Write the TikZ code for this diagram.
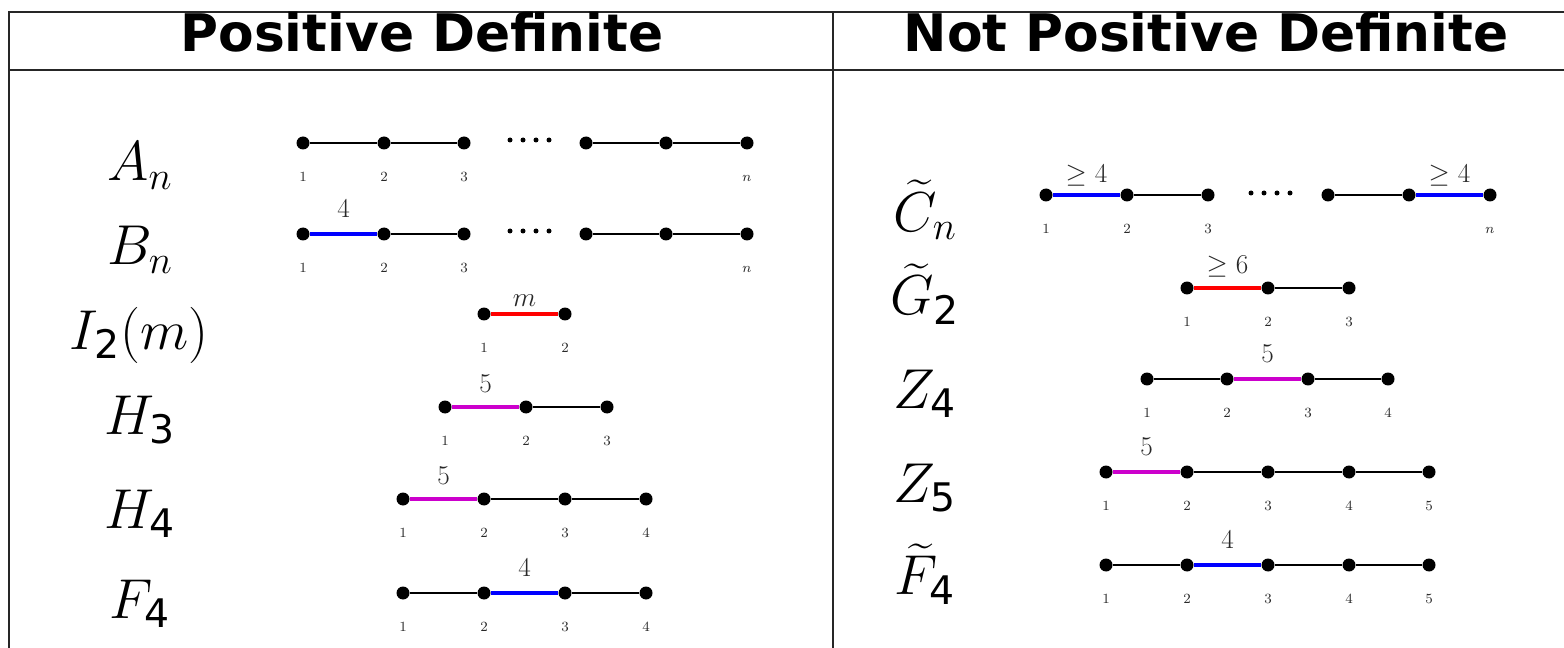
\documentclass[tikz,border=0pt]{standalone}
\usepackage{fix-cm}
\usepackage{amsmath}
\usepackage{fontspec}
\setsansfont{DejaVu Sans}
\usepackage{tikz}
\usetikzlibrary{positioning}
\definecolor{edgeBlue}{RGB}{0,0,255}
\definecolor{edgeRed}{RGB}{255,0,0}
\definecolor{edgeMag}{RGB}{204,0,204}
\definecolor{labelgray}{RGB}{40,40,40}
\newcommand{\sfsub}[1]{\text{\sffamily #1}}

\begin{document}
\begin{tikzpicture}[
  x=0.02cm,y=-0.02cm,
  vertex/.style={circle,fill=black,inner sep=0pt,minimum size=0.26cm},
  numlabel/.style={font=\fontsize{8}{9}\selectfont,text=labelgray,inner sep=0pt,text height=5pt,text depth=0pt},
  wlabel/.style={font=\fontsize{15.5}{17}\selectfont,text=labelgray,inner sep=2pt},
  rowname/.style={font=\fontsize{32}{38}\selectfont},
  header/.style={font=\sffamily\bfseries\fontsize{29.5}{34}\selectfont},
  rule/.style={draw=black!85,line width=1.1pt},
  plain/.style={draw=black,line width=1.3pt},
  blueedge/.style={draw=edgeBlue,line width=2.3pt},
  rededge/.style={draw=edgeRed,line width=2.3pt},
  magedge/.style={draw=edgeMag,line width=2.3pt},
]
\useasboundingbox (0,0) rectangle (1564,648);
% table frame
\draw[rule] (9,648) -- (9,12) -- (1564,12);
\draw[rule] (9,70) -- (1564,70);
\draw[rule] (833,12) -- (833,648);
\node[header] (hpos) at (422,32) {Positive Definite};
\node[header] (hnot) at (1206,32) {Not Positive Definite};

% ---- positive definite ----
\node[rowname] (An) at (140,166) {$A_n$};
\node[rowname] (Bn) at (140,250) {$B_n$};
\node[rowname] (I2) at (139,335) {$I_{\sfsub{2}}(m)$};
\node[rowname] (H3) at (140,420) {$H_{\sfsub{3}}$};
\node[rowname] (H4) at (140,514) {$H_{\sfsub{4}}$};
\node[rowname] (F4) at (140,604) {$F_{\sfsub{4}}$};

\foreach \x/\t [count=\i] in {303/1,384/2,464/3,586/{},666/{},747/$n$}{
  \node[vertex] (a\i) at (\x,143) {};
  \node[numlabel,below=0.45cm of a\i] (a\i n) {\t};
}
\draw[plain] (a1) -- (a2) -- (a3);
\draw[plain] (a4) -- (a5) -- (a6);
\foreach \x in {510,523,536,549} \fill (\x,140) circle (0.05cm);

\foreach \x/\t [count=\i] in {303/1,384/2,464/3,586/{},666/{},747/$n$}{
  \node[vertex] (b\i) at (\x,234) {};
  \node[numlabel,below=0.45cm of b\i] (b\i n) {\t};
}
\draw[blueedge] (b1) -- node[wlabel,above=6pt] (b12) {4} (b2);
\draw[plain] (b2) -- (b3);
\draw[plain] (b4) -- (b5) -- (b6);
\foreach \x in {510,523,536,549} \fill (\x,231) circle (0.05cm);

\foreach \x/\t [count=\i] in {484/1,565/2}{
  \node[vertex] (i\i) at (\x,314) {};
  \node[numlabel,below=0.45cm of i\i] (i\i n) {\t};
}
\draw[rededge] (i1) -- node[wlabel,above=1pt] (i12) {$m$} (i2);

\foreach \x/\t [count=\i] in {445/1,526/2,607/3}{
  \node[vertex] (h\i) at (\x,407) {};
  \node[numlabel,below=0.45cm of h\i] (h\i n) {\t};
}
\draw[magedge] (h1) -- node[wlabel,above=5pt] (h12) {5} (h2);
\draw[plain] (h2) -- (h3);

\foreach \x/\t [count=\i] in {403/1,484/2,565/3,646/4}{
  \node[vertex] (k\i) at (\x,499) {};
  \node[numlabel,below=0.45cm of k\i] (k\i n) {\t};
}
\draw[magedge] (k1) -- node[wlabel,above=5pt] (k12) {5} (k2);
\draw[plain] (k2) -- (k3) -- (k4);

\foreach \x/\t [count=\i] in {403/1,484/2,565/3,646/4}{
  \node[vertex] (f\i) at (\x,593) {};
  \node[numlabel,below=0.45cm of f\i] (f\i n) {\t};
}
\draw[plain] (f1) -- (f2);
\draw[blueedge] (f2) -- node[wlabel,above=6pt] (f23) {4} (f3);
\draw[plain] (f3) -- (f4);

% ---- not positive definite ----
\node[rowname] (Ct) at (925,210) {$\widetilde{C}_n$};
\node[rowname] (Gt) at (925,294) {$\widetilde{G}_{\sfsub{2}}$};
\node[rowname] (Z4) at (925,394) {$Z_{\sfsub{4}}$};
\node[rowname] (Z5) at (925,488) {$Z_{\sfsub{5}}$};
\node[rowname] (Ft) at (925,574) {$\widetilde{F}_{\sfsub{4}}$};

\foreach \x/\t [count=\i] in {1046/1,1127/2,1208/3,1328/{},1409/{},1490/$n$}{
  \node[vertex] (c\i) at (\x,195) {};
  \node[numlabel,below=0.45cm of c\i] (c\i n) {\t};
}
\draw[blueedge] (c1) -- node[wlabel,above=2pt] (c12) {$\geq$ 4} (c2);
\draw[plain] (c2) -- (c3);
\draw[plain] (c4) -- (c5);
\draw[blueedge] (c5) -- node[wlabel,above=2pt] (c56) {$\geq$ 4} (c6);
\foreach \x in {1251,1264,1277,1290} \fill (\x,193) circle (0.05cm);

\foreach \x/\t [count=\i] in {1187/1,1268/2,1349/3}{
  \node[vertex] (g\i) at (\x,288) {};
  \node[numlabel,below=0.45cm of g\i] (g\i n) {\t};
}
\draw[rededge] (g1) -- node[wlabel,above=3pt] (g12) {$\geq$ 6} (g2);
\draw[plain] (g2) -- (g3);

\foreach \x/\t [count=\i] in {1147/1,1227/2,1308/3,1388/4}{
  \node[vertex] (z\i) at (\x,379) {};
  \node[numlabel,below=0.45cm of z\i] (z\i n) {\t};
}
\draw[plain] (z1) -- (z2);
\draw[magedge] (z2) -- node[wlabel,above=6pt] (z23) {5} (z3);
\draw[plain] (z3) -- (z4);

\foreach \x/\t [count=\i] in {1106/1,1187/2,1268/3,1349/4,1429/5}{
  \node[vertex] (y\i) at (\x,472) {};
  \node[numlabel,below=0.45cm of y\i] (y\i n) {\t};
}
\draw[magedge] (y1) -- node[wlabel,above=6pt] (y12) {5} (y2);
\draw[plain] (y2) -- (y3) -- (y4) -- (y5);

\foreach \x/\t [count=\i] in {1106/1,1187/2,1268/3,1349/4,1429/5}{
  \node[vertex] (e\i) at (\x,565) {};
  \node[numlabel,below=0.45cm of e\i] (e\i n) {\t};
}
\draw[plain] (e1) -- (e2);
\draw[blueedge] (e2) -- node[wlabel,above=6pt] (e23) {4} (e3);
\draw[plain] (e3) -- (e4) -- (e5);
\end{tikzpicture}
\end{document}
